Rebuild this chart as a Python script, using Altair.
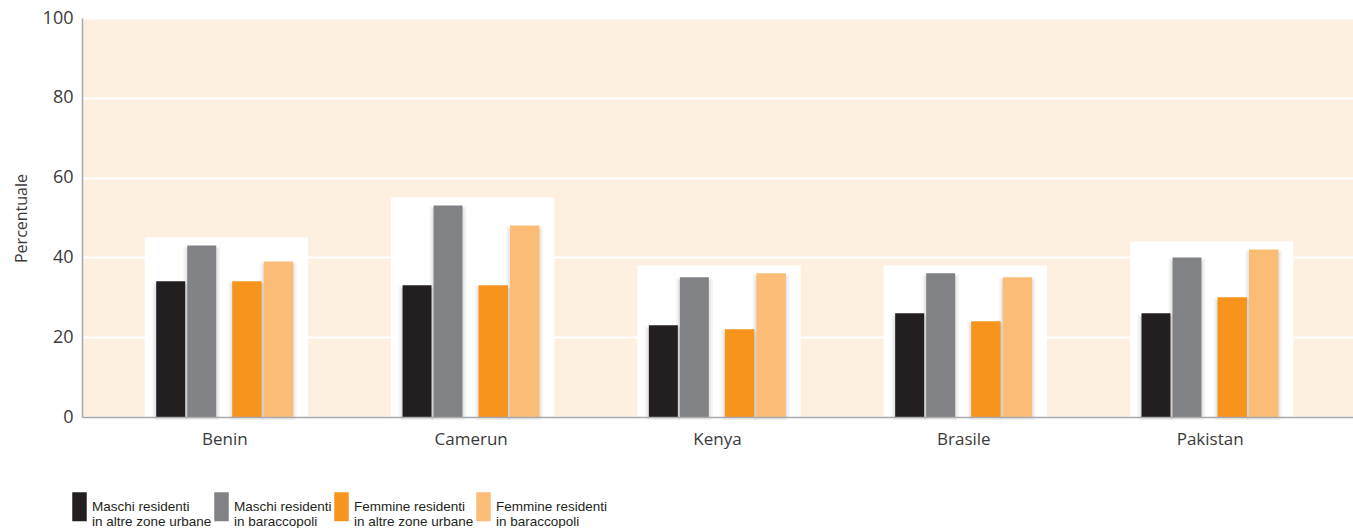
import altair as alt
import pandas as pd

# Share of residents by country and group (percent)
countries = ["Benin", "Camerun", "Kenya", "Brasile", "Pakistan"]
series = [
    "Maschi residenti\nin altre zone urbane",
    "Maschi residenti\nin baraccopoli",
    "Femmine residenti\nin altre zone urbane",
    "Femmine residenti\nin baraccopoli",
]
male_other = [34, 33, 23, 26, 26]
male_slum = [43, 53, 35, 36, 40]
female_other = [34, 33, 22, 24, 30]
female_slum = [39, 48, 36, 35, 42]
colors = ["#231F20", "#808285", "#F7941D", "#FBBC76"]

rows = []
for name, vals in zip(series, [male_other, male_slum, female_other, female_slum]):
    for country, v in zip(countries, vals):
        rows.append({
            "paese": country,
            "gruppo": name,
            "valore": v,
            "sesso": "M" if name.startswith("Maschi") else "F",
        })
df = pd.DataFrame(rows)

FONT = "Open Sans"
LEGEND_FONT = "Liberation Sans"
TEXT = "#3A3A3A"

x_enc = alt.X(
    "paese:N",
    sort=countries,
    scale=alt.Scale(paddingInner=0, paddingOuter=0.08),
    axis=alt.Axis(
        title=None, labelAngle=0, ticks=False, grid=False,
        labelFontSize=17, labelPadding=14, labelColor=TEXT, labelFont=FONT,
        domainColor="#A7A9AC", domainWidth=1.5, zindex=1,
    ),
)
y_axis = alt.Axis(
    values=[0, 20, 40, 60, 80, 100], ticks=False, grid=True,
    gridColor="#FFFFFF", gridWidth=2,
    labelFontSize=18, labelPadding=9, labelColor=TEXT, labelFont=FONT,
    domainColor="#A7A9AC", domainWidth=1.5,
    title="Percentuale", titleFont=FONT, titleFontSize=16, titleFontWeight="normal",
    titleColor=TEXT, titleAngle=270, titleX=-61, titleY=200,
    titleAlign="center", titleBaseline="middle", zindex=0,
)
y_scale = alt.Scale(domain=[0, 100], nice=False)

# Legend keys are tall rectangles (14.5 x 29 px) with two-line labels
color_enc = alt.Color(
    "gruppo:N",
    scale=alt.Scale(domain=series, range=colors),
    legend=alt.Legend(
        title=None, orient="none", legendX=-10, legendY=481,
        direction="horizontal", columns=4, columnPadding=2, padding=0,
        symbolType="M-1,-2H1V2H-1Z", symbolSize=210, symbolStrokeWidth=0,
        symbolOpacity=1,
        labelExpr="split(datum.label, '\\n')", labelOffset=5,
        labelFont=LEGEND_FONT, labelFontSize=13.5, labelColor="#231F20",
        labelLimit=300, labelBaseline="middle",
    ),
)

base = alt.Chart(df)

# White panel behind each country group, a little taller than its highest bar
panels = base.transform_aggregate(
    top="max(valore)", groupby=["paese"]
).transform_calculate(
    pannello="datum.top + 2"
).mark_bar(color="#FFFFFF", width=alt.RelativeBandSize(0.663), xOffset=1.5).encode(
    x=x_enc,
    y=alt.Y("pannello:Q", scale=y_scale, axis=y_axis),
)


def offset_enc(groups, lo, hi):
    return alt.XOffset(
        "gruppo:N",
        scale=alt.Scale(domain=groups, range=[lo, hi], paddingInner=0.0645, paddingOuter=0),
    )


male_off = (series[:2], 54.5, 114.5)
female_off = (series[2:], 130.5, 191.5)


def shadow(sex, offs, width, opacity, dy, dy2):
    return base.transform_filter(alt.datum.sesso == sex).mark_bar(
        color="#000000", opacity=opacity, width=width,
        xOffset=3, yOffset=dy, y2Offset=dy2,
    ).encode(
        x=x_enc,
        y=alt.Y("valore:Q", scale=y_scale, axis=y_axis),
        xOffset=offset_enc(*offs),
    )


def bars(sex, offs):
    return base.transform_filter(alt.datum.sesso == sex).mark_bar().encode(
        x=x_enc,
        y=alt.Y("valore:Q", scale=y_scale, axis=y_axis),
        xOffset=offset_enc(*offs),
        color=color_enc,
    )


chart = alt.layer(
    panels,
    shadow("M", male_off, 37, 0.04, 1, 9),
    shadow("F", female_off, 37, 0.04, 1, 9),
    shadow("M", male_off, 33, 0.06, 3, 6),
    shadow("F", female_off, 33, 0.06, 3, 6),
    bars("M", male_off),
    bars("F", female_off),
).resolve_scale(
    xOffset="independent"
).properties(
    width=1271,
    height=399,
    padding={"left": 82, "top": 18, "right": 0, "bottom": 111},
    autosize=alt.AutoSizeParams(type="none"),
    background="#FFFFFF",
).configure_view(
    fill="#FDF0E1", stroke=None
)

chart.save("out.html", embed_options={"renderer": "svg", "actions": False})
